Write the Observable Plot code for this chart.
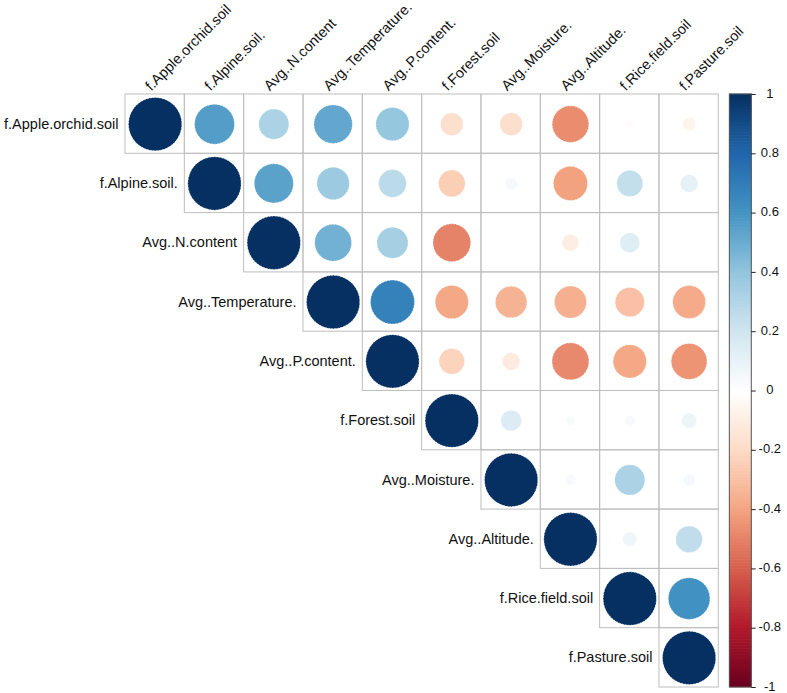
<!DOCTYPE html>
<html>
<head>
<meta charset="utf-8">
<script src="https://cdn.jsdelivr.net/npm/d3@7"></script>
<script src="https://cdn.jsdelivr.net/npm/@observablehq/plot@0.6"></script>
<style>
  html, body { margin: 0; padding: 0; background: #ffffff; }
  #chart svg { display: block; }
</style>
</head>
<body>
<div id="chart"></div>
<script>
// Variables (row / column order)
const variables = [
  "f.Apple.orchid.soil", "f.Alpine.soil.", "Avg..N.content", "Avg..Temperature.",
  "Avg..P.content.", "f.Forest.soil", "Avg..Moisture.", "Avg..Altitude.",
  "f.Rice.field.soil", "f.Pasture.soil"
];

// Upper-triangle correlations, row i holds columns i..9
const corrRows = [
  [1, 0.56, 0.32, 0.52, 0.39, -0.18, -0.18, -0.47, -0.02, -0.06],
  [1, 0.54, 0.37, 0.27, -0.25, 0.05, -0.41, 0.24, 0.11],
  [1, 0.48, 0.34, -0.50, 0.00, -0.10, 0.14, 0.01],
  [1, 0.68, -0.39, -0.35, -0.36, -0.30, -0.38],
  [1, -0.23, -0.11, -0.48, -0.39, -0.45],
  [1, 0.15, 0.03, 0.04, 0.08],
  [1, 0.04, 0.32, 0.05],
  [1, 0.07, 0.25],
  [1, 0.61],
  [1]
];

// Colour bar tick labels
const legendTicks = [1, 0.8, 0.6, 0.4, 0.2, 0, -0.2, -0.4, -0.6, -0.8, -1];

// RdBu palette stops (corrplot COL2 'RdBu')
const paletteStops = [-1, -0.8, -0.6, -0.4, -0.2, 0, 0.2, 0.4, 0.6, 0.8, 1];
const paletteColors = ["#67001F", "#B2182B", "#D6604D", "#F4A582", "#FDDBC7", "#FFFFFF",
                       "#D1E5F0", "#92C5DE", "#4393C3", "#2166AC", "#053061"];

const n = variables.length;
const cells = [];
corrRows.forEach((row, i) => row.forEach((v, k) => cells.push({i, j: i + k, v})));

// colour bar geometry in grid units (value -> row position)
const cbY = v => (n / 2) * (1 - v);
const cbX1 = 10.186, cbX2 = 10.556, tickX2 = 10.63, labelX = 10.86;
const cbBins = d3.range(200).map(k => ({lo: -1 + k * 0.01, hi: -1 + (k + 1) * 0.01}));

const font = "'Liberation Sans', Arial, Helvetica, sans-serif";

const chart = Plot.plot({
  width: 787,
  height: 693,
  margin: 0,
  style: {fontFamily: font, background: "#ffffff", overflow: "visible"},
  x: {domain: [0, n], range: [125, 718.3], axis: null},
  y: {domain: [0, n], range: [94, 687], axis: null},
  r: {type: "sqrt", domain: [0, 1], range: [0, 26.7]},
  color: {type: "linear", domain: paletteStops, range: paletteColors, interpolate: "rgb"},
  marks: [
    // grid cells
    Plot.rect(cells, {
      x1: d => d.j, x2: d => d.j + 1, y1: d => d.i, y2: d => d.i + 1,
      fill: "none", stroke: "#BEBEBE", strokeWidth: 1
    }),
    // circles
    Plot.dot(cells, {
      x: d => d.j + 0.5, y: d => d.i + 0.5,
      r: d => Math.abs(d.v), fill: d => d.v,
      stroke: "white", strokeWidth: 0.8, strokeDasharray: "1.5 1.5", strokeOpacity: 0.8
    }),
    // row labels
    Plot.text(variables, {
      x: (d, i) => i, y: (d, i) => i + 0.5, text: d => d,
      textAnchor: "end", dx: -7, fontSize: 14.5, fill: "#111"
    }),
    // column labels
    Plot.text(variables, {
      x: (d, i) => i + 0.5, y: 0, text: d => d,
      textAnchor: "start", lineAnchor: "bottom", rotate: -45,
      dx: -4, dy: -3, fontSize: 14.5, fill: "#111"
    }),
    // colour bar
    Plot.rect(cbBins, {
      x1: cbX1, x2: cbX2, y1: d => cbY(d.hi), y2: d => cbY(d.lo),
      fill: d => (d.lo + d.hi) / 2, inset: -0.3
    }),
    Plot.rect([0], {x1: cbX1, x2: cbX2, y1: cbY(1), y2: cbY(-1), fill: "none", stroke: "#555", strokeWidth: 1}),
    Plot.ruleY(legendTicks, {y: d => cbY(d), x1: cbX2, x2: tickX2, stroke: "#222", strokeWidth: 1}),
    Plot.text(legendTicks, {
      x: labelX, y: d => cbY(d), text: d => String(d),
      textAnchor: "middle", fontSize: 13, dy: -1, fill: "#111"
    })
  ]
});

document.getElementById("chart").appendChild(chart);
</script>
</body>
</html>
